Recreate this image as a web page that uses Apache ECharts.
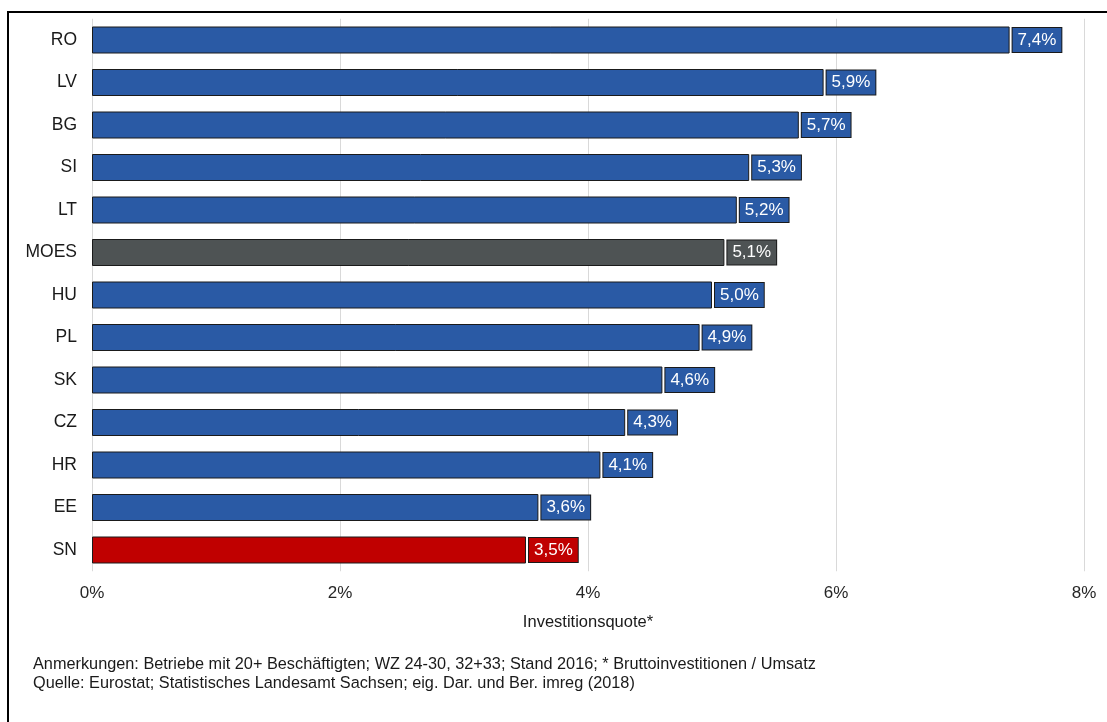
<!DOCTYPE html>
<html>
<head>
<meta charset="utf-8">
<script src="https://cdn.jsdelivr.net/npm/echarts@6/dist/echarts.min.js"></script>
<style>
  html, body { margin: 0; padding: 0; background: #ffffff; }
  #chart { width: 1107px; height: 722px; }
</style>
</head>
<body>
<div id="chart"></div>
<script>
// Investment ratio (gross investment / turnover), in percent
const categories = ['RO', 'LV', 'BG', 'SI', 'LT', 'MOES', 'HU', 'PL', 'SK', 'CZ', 'HR', 'EE', 'SN'];
const values = [7.4, 5.9, 5.7, 5.3, 5.2, 5.1, 5.0, 4.9, 4.6, 4.3, 4.1, 3.6, 3.5];
const xTicks = [0, 2, 4, 6, 8];
const axisTitle = 'Investitionsquote*';
const notes = [
  'Anmerkungen: Betriebe mit 20+ Beschäftigten; WZ 24-30, 32+33; Stand 2016; * Bruttoinvestitionen / Umsatz',
  'Quelle: Eurostat; Statistisches Landesamt Sachsen; eig. Dar. und Ber. imreg (2018)'
];

const BLUE = '#2a5aa5';
const GREY = '#4e5354';
const RED = '#c00000';
const FONT = 'Liberation Sans, Arial, sans-serif';

function barColor(cat) {
  if (cat === 'MOES') return GREY;
  if (cat === 'SN') return RED;
  return BLUE;
}

const seriesData = categories.map((c, i) => {
  const col = barColor(c);
  return {
    value: values[i],
    itemStyle: { color: col },
    label: { backgroundColor: col }
  };
});

const chart = echarts.init(document.getElementById('chart'), null, { renderer: 'canvas' });

chart.setOption({
  animation: false,
  backgroundColor: '#ffffff',
  grid: { left: 92, right: 23, top: 18.75, bottom: 150.75, containLabel: false },
  xAxis: {
    type: 'value',
    min: xTicks[0],
    max: xTicks[xTicks.length - 1],
    interval: xTicks[1] - xTicks[0],
    name: axisTitle,
    nameLocation: 'middle',
    nameGap: 43,
    nameTextStyle: { fontFamily: FONT, fontSize: 16.5, color: '#1a1a1a' },
    axisLine: { show: false },
    axisTick: { show: false },
    axisLabel: {
      margin: 14,
      fontFamily: FONT,
      fontSize: 17,
      color: '#262626',
      formatter: v => v + '%'
    },
    splitLine: { show: true, lineStyle: { color: '#d9d9d9', width: 1 } }
  },
  yAxis: {
    type: 'category',
    data: categories,
    inverse: true,
    axisLine: { show: false },
    axisTick: { show: false },
    axisLabel: {
      margin: 15,
      fontFamily: FONT,
      fontSize: 17.5,
      color: '#1a1a1a'
    }
  },
  series: [{
    type: 'bar',
    data: seriesData,
    barWidth: 27,
    itemStyle: { borderColor: '#1a1a1a', borderWidth: 1 },
    label: {
      show: true,
      position: 'right',
      distance: 3,
      fontFamily: FONT,
      fontSize: 17,
      color: '#ffffff',
      borderColor: '#1a1a1a',
      borderWidth: 1,
      padding: [4, 5, 3, 5],
      formatter: p => p.value.toFixed(1).replace('.', ',') + '%'
    }
  }],
  graphic: [
    {
      type: 'rect',
      shape: { x: 8, y: 12, width: 1200, height: 800 },
      style: { fill: 'none', stroke: '#000000', lineWidth: 2 },
      silent: true
    },
    {
      type: 'text',
      left: 33,
      top: 655,
      style: {
        text: notes.join('\n'),
        fontFamily: FONT,
        fontSize: 16.3,
        lineHeight: 19,
        fill: '#1a1a1a'
      }
    }
  ]
});
</script>
</body>
</html>
